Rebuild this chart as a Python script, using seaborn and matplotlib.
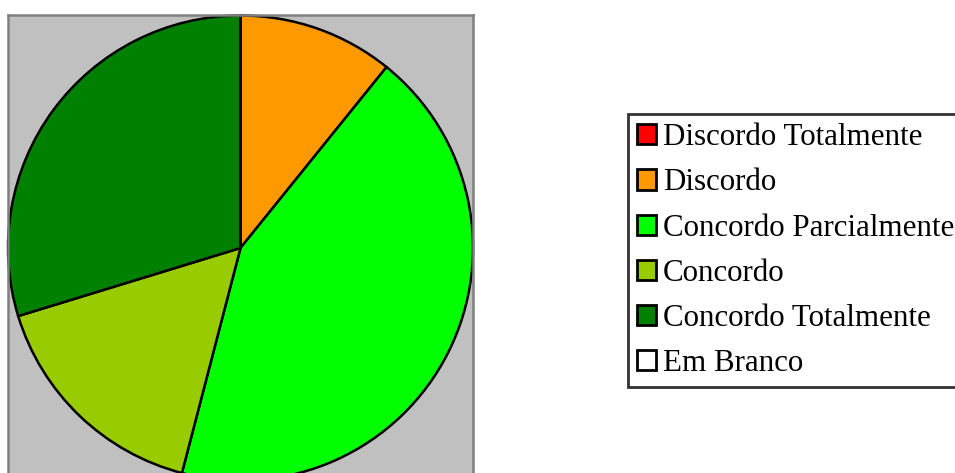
import matplotlib
matplotlib.use("Agg")
import matplotlib.pyplot as plt
import seaborn as sns

# Data: answers counted per category
labels = ["Discordo Totalmente", "Discordo", "Concordo Parcialmente",
          "Concordo", "Concordo Totalmente", "Em Branco"]
counts = [0, 4, 16, 6, 11, 0]
colors = ["#FF0000", "#FF9900", "#00FF00", "#99CC00", "#008000", "#FFFFFF"]

sns.set_style("white")
plt.rcParams['font.family'] = ['Liberation Serif', 'DejaVu Serif']
plt.rcParams['text.color'] = 'black'

fig = plt.figure(figsize=(9.55, 4.73), dpi=100)
ax = fig.add_axes([8 / 955, 1 - 15 / 473 - 466 / 473, 465 / 955, 466 / 473])
ax.set_facecolor("#C0C0C0")

palette = sns.color_palette(colors)
wedges, _ = ax.pie(counts, colors=palette, startangle=90, counterclock=False,
                   radius=1, center=(0, 0), frame=True,
                   wedgeprops=dict(edgecolor="black", linewidth=1.8))
ax.set_xlim(-1, 1)
ax.set_ylim(-1, 1)
ax.set_xticks([])
ax.set_yticks([])
for s in ax.spines.values():
    s.set_color("#808080")
    s.set_linewidth(1.8)

leg = fig.legend(wedges, labels, loc="upper left",
                 bbox_to_anchor=(628 / 955, 1 - 114 / 473),
                 fontsize=22.3, frameon=True, fancybox=False,
                 handlelength=0.62, handleheight=0.62, handletextpad=0.2,
                 labelspacing=0.52, borderpad=0.3, borderaxespad=0)
leg.get_frame().set_edgecolor("black")
leg.get_frame().set_linewidth(2)
for h in leg.legend_handles:
    h.set_edgecolor("black")
    h.set_linewidth(2)

fig.savefig("out.png", dpi=100)
